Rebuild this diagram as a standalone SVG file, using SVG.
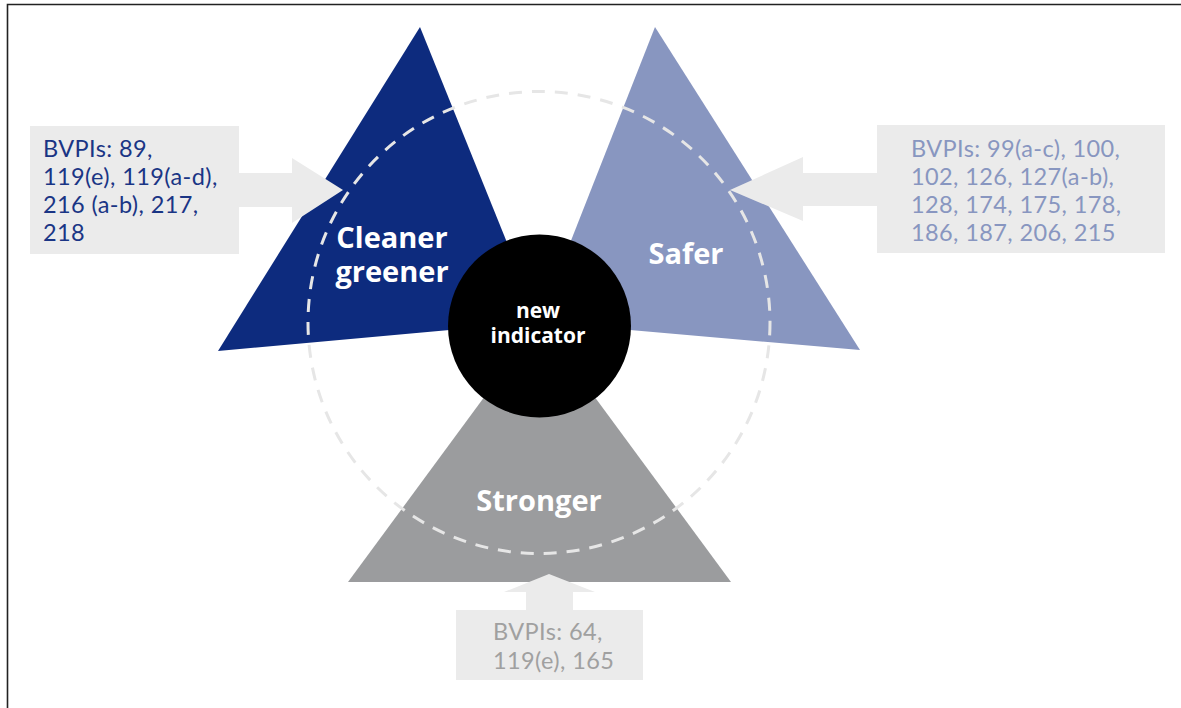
<svg xmlns="http://www.w3.org/2000/svg" width="1181" height="708" viewBox="0 0 1181 708">
<style>
.box{fill:#ebebeb}
.arrow{fill:#ebebeb}
.lbl{font-family:Lato,"Open Sans",sans-serif;font-size:23.5px;letter-spacing:0.4px}
.big{font-family:"Open Sans","Noto Sans",sans-serif;font-size:29px;font-weight:bold;fill:#ffffff;text-anchor:middle}
.mid{font-family:"Open Sans","Noto Sans",sans-serif;font-size:21px;font-weight:bold;fill:#ffffff;text-anchor:middle}
</style>
<rect x="0" y="0" width="1181" height="708" fill="#ffffff"/>
<path d="M7.5 708 V4.5 H1181" fill="none" stroke="#222222" stroke-width="1.6"/>
<g id="cleaner-greener">
<polygon points="420,27 539,322 218,351" fill="#0d2b7e"/>
</g>
<g id="safer">
<polygon points="655,27 860,350 539,322" fill="#8896c0"/>
</g>
<g id="stronger">
<polygon points="539.5,322 731,582 348,582" fill="#9b9c9e"/>
</g>
<circle cx="539" cy="322.5" r="231" fill="none" stroke="#e6e6e6" stroke-width="3" stroke-dasharray="13 10"/>
<g id="connectors">
<polygon class="arrow" points="238,173 292,173 292,158 343,190 292,223 292,207 238,207"/>
<polygon class="arrow" points="879,173 803,173 803,157 730,190 803,221 803,206 879,206"/>
<polygon class="arrow" points="526,612 526,592 504,592 549,574 595,592 573,592 573,612"/>
</g>
<g id="new-indicator">
<circle cx="539.5" cy="326" r="91.5" fill="#000000"/>
<text class="mid" x="538" y="318">new</text>
<text class="mid" x="538" y="343">indicator</text>
</g>
<text class="big" x="392" y="248">Cleaner</text>
<text class="big" x="392" y="282">greener</text>
<text class="big" x="686" y="264">Safer</text>
<text class="big" x="539" y="511">Stronger</text>
<g id="box-left">
<rect class="box" x="30" y="126" width="209" height="128"/>
<text class="lbl" fill="#1a3585"><tspan x="43" y="157">BVPIs: 89,</tspan><tspan x="43" y="185">119(e), 119(a-d),</tspan><tspan x="43" y="213">216 (a-b), 217,</tspan><tspan x="43" y="241">218</tspan></text>
</g>
<g id="box-right">
<rect class="box" x="877" y="125" width="288" height="128"/>
<text class="lbl" fill="#8896c0"><tspan x="911" y="157">BVPIs: 99(a-c), 100,</tspan><tspan x="911" y="185">102, 126, 127(a-b),</tspan><tspan x="911" y="213">128, 174, 175, 178,</tspan><tspan x="911" y="241">186, 187, 206, 215</tspan></text>
</g>
<g id="box-bottom">
<rect class="box" x="456" y="610" width="187" height="70"/>
<text class="lbl" fill="#a0a0a0"><tspan x="493" y="640">BVPIs: 64,</tspan><tspan x="493" y="669">119(e), 165</tspan></text>
</g>
</svg>
